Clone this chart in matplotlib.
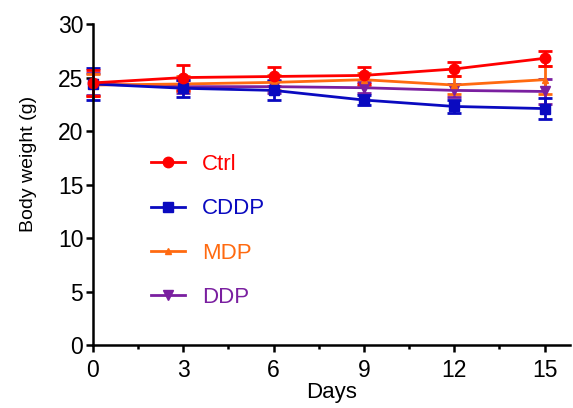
import matplotlib
matplotlib.use("Agg")
import matplotlib.pyplot as plt
from matplotlib.lines import Line2D

plt.rcParams['font.family'] = ['Liberation Sans', 'DejaVu Sans']

days = [0, 3, 6, 9, 12, 15]

ctrl = [24.5, 25.0, 25.1, 25.2, 25.8, 26.8]
ctrl_err = [1.2, 1.2, 0.9, 0.8, 0.7, 0.7]

cddp = [24.4, 24.0, 23.8, 22.9, 22.3, 22.1]
cddp_err = [1.5, 0.8, 0.9, 0.5, 0.6, 1.0]

mdp = [24.3, 24.4, 24.55, 24.8, 24.3, 24.8]
mdp_err = [1.0, 0.7, 0.7, 0.6, 0.8, 1.3]

ddp = [24.4, 24.15, 24.15, 24.05, 23.8, 23.7]
ddp_err = [1.0, 0.6, 0.6, 0.5, 0.6, 1.2]

labels = ["Ctrl", "CDDP", "MDP", "DDP"]
colors = ["#FF0000", "#0A0AC0", "#FF6A10", "#7A1FA0"]

fig = plt.figure(figsize=(5.73, 4.08), dpi=100)
ax = fig.add_axes([0.1623, 0.1544, 0.8327, 0.7866])

series = [
    (ddp, ddp_err, labels[3], colors[3], 'v', 7),
    (mdp, mdp_err, labels[2], colors[2], '^', 4),
    (cddp, cddp_err, labels[1], colors[1], 's', 7),
    (ctrl, ctrl_err, labels[0], colors[0], 'o', 7.5),
]
handles = {}
for vals, errs, lab, col, mk, ms in series:
    ax.errorbar(days, vals, yerr=errs, color=col, marker=mk, markersize=ms,
                linewidth=2.0, elinewidth=2.0, capsize=5, capthick=2.0,
                clip_on=False)
    handles[lab] = Line2D([], [], color=col, marker=mk, markersize=ms,
                          linewidth=2.0)

ax.legend([handles[l] for l in labels], labels, loc='upper left',
          bbox_to_anchor=(0.08, 0.657), frameon=False, fontsize=16,
          handlelength=1.5, handletextpad=0.8, labelspacing=1.05,
          labelcolor='linecolor')

ax.set_xlim(0, 15.85)
ax.set_ylim(0, 30)
ax.set_xticks([0, 3, 6, 9, 12, 15])
ax.set_xticks([1.5, 4.5, 7.5, 10.5, 13.5], minor=True)
ax.set_yticks([0, 5, 10, 15, 20, 25, 30])

for s in ['top', 'right']:
    ax.spines[s].set_visible(False)
for s in ['left', 'bottom']:
    ax.spines[s].set_linewidth(1.8)

ax.tick_params(axis='both', which='major', direction='out', length=5,
               width=1.8, labelsize=16.5)
ax.tick_params(axis='x', which='major', pad=5)
ax.tick_params(axis='y', which='major', pad=2)
ax.tick_params(axis='x', which='minor', direction='out', length=3, width=1.8)

ax.set_xlabel("Days", fontsize=16, labelpad=0)
ax.set_ylabel("Body weight (g)", fontsize=14)
ax.yaxis.set_label_coords(-0.117, 0.564)

fig.savefig("out.png", dpi=100)
